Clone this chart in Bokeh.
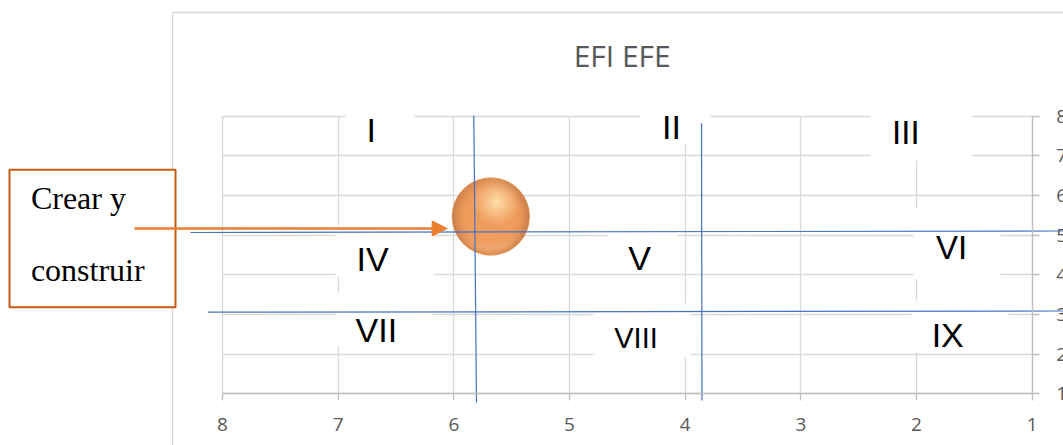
import numpy as np
from bokeh.plotting import figure
from bokeh.models import (Range1d, LinearAxis, FixedTicker, Grid, BoxAnnotation,
                          Arrow, NormalHead, Label, ColumnDataSource)
from bokeh.core.properties import value
from bokeh.embed import file_html
from bokeh.resources import INLINE

# ---------------- data ----------------
chart_title = "EFI EFE"
efi_score = [5.68]            # horizontal value (axis runs 8 -> 1)
efe_score = [5.47]            # vertical value
strategy = ["Crear y construir"]
box_lines = ["Crear y", "construir"]
x_ticks = [1, 2, 3, 4, 5, 6, 7, 8]
y_ticks = [1, 2, 3, 4, 5, 6, 7, 8]
cells = ["I", "II", "III", "IV", "V", "VI", "VII", "VIII", "IX"]

# ---------------- calibration (page pixels -> values) ----------------
W, H = 1063, 445
PX8, PXU = 222.0, 115.67      # page x of value 8, px per unit
PY1, PYU = 393.3, 39.66       # page y of value 1, px per unit
BASE_SHIFT = 0.385            # em shift for Bokeh's alphabetic baseline


def X(px):
    return 8 - (px - PX8) / PXU


def Y(py):
    return 1 + (PY1 - py) / PYU


p = figure(width=W, height=H, x_range=Range1d(X(0), X(W)), y_range=Range1d(Y(H), Y(0)),
           x_axis_type=None, y_axis_type=None, toolbar_location=None, output_backend="svg",
           min_border=0, outline_line_color=None, background_fill_color="white",
           border_fill_color="white")
p.title.visible = False

GRID = "#d9d9d9"
AXIS = "#bfbfbf"

# ---------------- grid ----------------
manual_grid = False
try:
    xg = Grid(dimension=0, ticker=FixedTicker(ticks=x_ticks), bounds=(1, 8), cross_bounds=(1, 8),
              grid_line_color=GRID, grid_line_width=1.3)
    yg = Grid(dimension=1, ticker=FixedTicker(ticks=y_ticks), bounds=(1, 8), cross_bounds=(1, 8),
              grid_line_color=GRID, grid_line_width=1.3)
    p.add_layout(xg)
    p.add_layout(yg)
except AttributeError:
    manual_grid = True

# chart area border
p.add_layout(BoxAnnotation(left=X(172), right=X(1400), top=Y(12), bottom=Y(800),
                           fill_alpha=0, line_color=GRID, line_alpha=1, line_width=1.3,
                           level="underlay"))

# white boxes behind the cell numerals (page px: left, right, top, bottom)
label_boxes = [(345, 414, 100, 150), (640, 710, 100, 143), (870, 972, 100, 160),
               (335, 433, 225, 276), (607, 677, 226, 272), (913, 1000, 208, 279),
               (335, 432, 292, 345), (593, 690, 303, 357), (911, 1008, 300, 352)]
for l, r, t, b in label_boxes:
    p.add_layout(BoxAnnotation(left=X(l), right=X(r), top=Y(t), bottom=Y(b),
                               fill_color="white", fill_alpha=1, line_color=None, level="underlay"))

if manual_grid:
    p.segment(x0=x_ticks, y0=[1] * len(x_ticks), x1=x_ticks, y1=[8] * len(x_ticks),
              line_color=GRID, line_width=1.3, level="underlay")
    p.segment(x0=[1] * len(y_ticks), y0=y_ticks, x1=[8] * len(y_ticks), y1=y_ticks,
              line_color=GRID, line_width=1.3, level="underlay")

# ---------------- axes ----------------
ax_kw = dict(axis_line_color=AXIS, axis_line_width=1.3, major_tick_line_color=AXIS,
             major_tick_line_width=1.3, major_tick_in=0, major_tick_out=7,
             minor_tick_line_color=None, major_label_text_font="Open Sans",
             major_label_text_font_size="19px", major_label_text_color="#595959", bounds=(1, 8))
xa = LinearAxis(fixed_location=1, ticker=FixedTicker(ticks=x_ticks), major_label_standoff=17, **ax_kw)
p.add_layout(xa, "below")
ya = LinearAxis(fixed_location=1, ticker=FixedTicker(ticks=y_ticks), major_label_standoff=17, **ax_kw)
p.add_layout(ya, "right")

# ---------------- bubble (shaded sphere) ----------------
src = ColumnDataSource(dict(x=efi_score, y=efe_score, label=strategy))
BUBBLE_D = 78
p.scatter("x", "y", source=src, size=BUBBLE_D, fill_color="#ee9c5a", line_color=None)

n = BUBBLE_D
s = (np.arange(n) + 0.5) / n * 2 - 1
u, v = np.meshgrid(s, s)          # row 0 = bottom
r = np.sqrt(u ** 2 + v ** 2)
hu, hv = -0.15, 0.37
d = np.sqrt((u - hu) ** 2 + (v - hv) ** 2)
hi = np.array([255, 226, 176], float)
mid = np.array([240, 156, 92], float)
edge = np.array([184, 116, 70], float)
glow = np.array([246, 182, 132], float)
t1 = np.clip(d / 0.62, 0, 1) ** 0.85
col = hi * (1 - t1)[..., None] + mid * t1[..., None]
side = 0.5 + 0.5 * np.clip(np.abs(u) / np.maximum(r, 1e-6), 0, 1)
t2 = (np.clip((r - 0.62) / 0.38, 0, 1) ** 1.8) * 0.8 * side
col = col * (1 - t2[..., None]) + edge * t2[..., None]
g = (np.clip((-v - 0.4) / 0.4, 0, 1) * np.clip((0.99 - r) / 0.18, 0, 1)
     * np.clip((r - 0.55) / 0.25, 0, 1) * 0.55)
col = col * (1 - g[..., None]) + glow * g[..., None]
alpha = np.clip((1 - r) * n / 2, 0, 1)
sphere = np.zeros((n, n), dtype=np.uint32)
view = sphere.view(dtype=np.uint8).reshape((n, n, 4))
view[..., 0] = np.clip(col[..., 0], 0, 255).astype(np.uint8)
view[..., 1] = np.clip(col[..., 1], 0, 255).astype(np.uint8)
view[..., 2] = np.clip(col[..., 2], 0, 255).astype(np.uint8)
view[..., 3] = (alpha * 255).astype(np.uint8)
p.image_rgba(image=[sphere], x=efi_score, y=efe_score, dw=BUBBLE_D, dh=BUBBLE_D,
             dw_units="screen", dh_units="screen", anchor="center")

# ---------------- hand-drawn divider lines ----------------
BLUE = "#4472c4"
div_x0 = [X(473.3), X(701.0), X(190.0), X(207.5)]
div_y0 = [Y(115.0), Y(122.7), Y(232.0), Y(311.7)]
div_x1 = [X(476.0), X(701.5), X(1063.0), X(1063.0)]
div_y1 = [Y(402.0), Y(400.0), Y(230.5), Y(310.5)]
p.segment(x0=div_x0, y0=div_y0, x1=div_x1, y1=div_y1, line_color=BLUE, line_width=1.2)

# ---------------- cell numerals ----------------
cell_px = [370.7, 671, 905.3, 372, 639, 951, 375.8, 635.5, 947.2]
cell_py = [143, 140, 144.3, 272, 271, 259.3, 343, 349, 348]     # baseline (page px)
cell_fs = [34, 34, 33, 34, 34, 33, 34, 29, 34]
p.text(x=[X(a) for a in cell_px], y=[Y(b - BASE_SHIFT * f) for b, f in zip(cell_py, cell_fs)],
       text=cells, text_font=value("Liberation Sans"),
       text_font_size=["%dpx" % f for f in cell_fs], text_color="black",
       text_align="center", text_baseline="alphabetic")

# ---------------- title ----------------
p.add_layout(Label(x=X(621.7), y=Y(66.7 - BASE_SHIFT * 30), text=chart_title, text_align="center",
                   text_baseline="alphabetic", text_font="Open Sans", text_font_size="30px",
                   text_color="#595959"))

# ---------------- callout box with arrow ----------------
ORANGE = "#ed7d31"
p.add_layout(BoxAnnotation(left=X(9), right=X(175), top=Y(169.3), bottom=Y(306.7),
                           fill_color="white", fill_alpha=1, line_color="#c55a11",
                           line_alpha=1, line_width=2))
p.add_layout(Arrow(end=NormalHead(size=15, fill_color=ORANGE, line_color=ORANGE),
                   x_start=X(134), y_start=Y(228), x_end=X(446.7), y_end=Y(228),
                   line_color=ORANGE, line_width=2.6))
for txt, base in zip(box_lines, [210, 282]):
    p.add_layout(Label(x=X(30.4), y=Y(base - BASE_SHIFT * 32), text=txt, text_align="left",
                       text_baseline="alphabetic", text_font="Liberation Serif",
                       text_font_size="32px", text_color="black"))

open("out.html", "w").write(file_html(p, INLINE))
